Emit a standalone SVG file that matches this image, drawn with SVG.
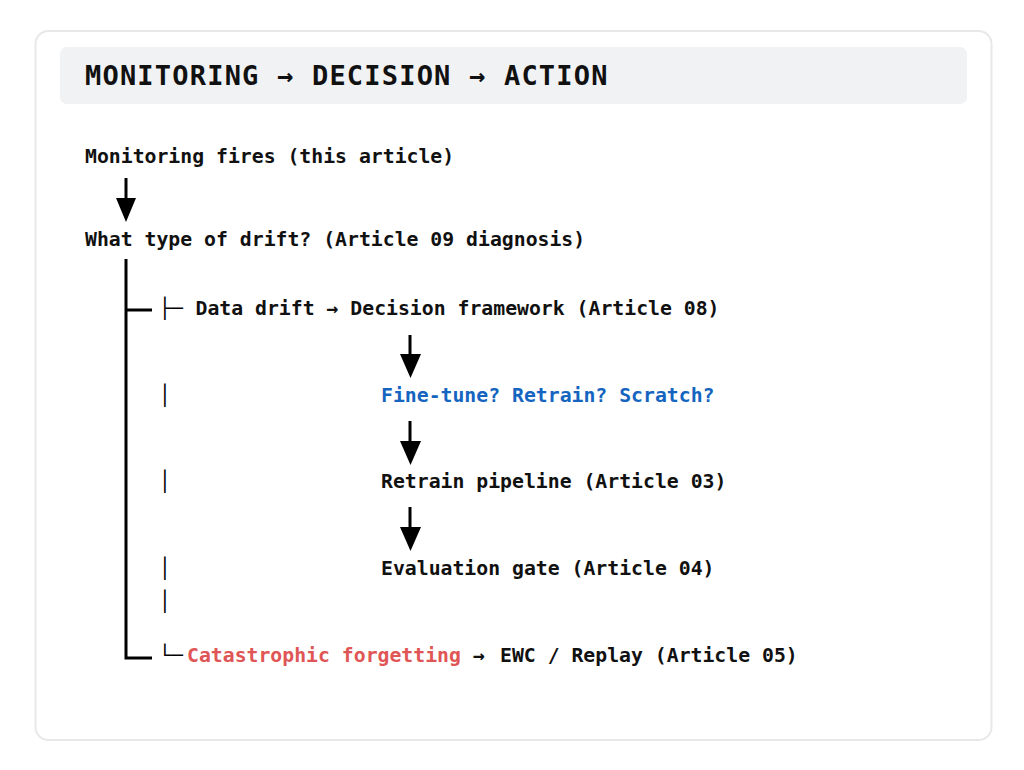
<svg xmlns="http://www.w3.org/2000/svg" width="1024" height="770" viewBox="0 0 1024 770">
<style>
.t{font-family:"DejaVu Sans Mono","Liberation Mono",monospace;font-weight:bold;font-size:19.8px;fill:#111}
.box{font-family:"DejaVu Sans Mono","Liberation Mono",monospace;font-weight:normal;font-size:19.8px;fill:#000}
.title{font-family:"DejaVu Sans Mono","Liberation Mono",monospace;font-weight:bold;font-size:27px;letter-spacing:1.2px;fill:#111}
.blue{fill:#1565c0}
.red{fill:#e05555}
.thick{stroke:#000;stroke-width:3;fill:none}
.ash{stroke:#000;stroke-width:3}
</style>
<rect x="0" y="0" width="1024" height="770" fill="#fff"/>
<rect x="35.5" y="31" width="956" height="709" rx="13" fill="#fff" stroke="#e8e8e8" stroke-width="2"/>
<g id="header">
<rect x="60" y="47" width="907" height="57" rx="7" fill="#f1f2f4"/>
<text class="title" x="85" y="85">MONITORING → DECISION → ACTION</text>
</g>
<g id="connectors">
<line class="ash" x1="126" y1="178" x2="126" y2="200"/>
<path d="M116,198 L136,198 L126,222 z" fill="#000"/>
<line class="ash" x1="410" y1="335" x2="410" y2="356"/>
<path d="M400,354 L421,354 L410.5,378 z" fill="#000"/>
<line class="ash" x1="410" y1="421" x2="410" y2="443"/>
<path d="M400,441 L421,441 L410.5,465 z" fill="#000"/>
<line class="ash" x1="410" y1="507" x2="410" y2="529"/>
<path d="M400,527 L421,527 L410.5,551 z" fill="#000"/>
<path class="thick" d="M126,259 L126,658 L152,658"/>
<line class="ash" x1="126" y1="310" x2="152" y2="310"/>
</g>
<g id="node-monitoring"><text class="t" x="85" y="163">Monitoring fires (this article)</text></g>
<g id="node-drift-type"><text class="t" x="85" y="246">What type of drift? (Article 09 diagnosis)</text></g>
<g id="node-data-drift"><text class="box" x="159" y="315">├─</text><text class="t" x="195.5" y="315">Data drift → Decision framework (Article 08)</text></g>
<g id="node-finetune"><text class="box" x="159" y="402">│</text><text class="t blue" x="381" y="402">Fine-tune? Retrain? Scratch?</text></g>
<g id="node-retrain"><text class="box" x="159" y="488">│</text><text class="t" x="381" y="488">Retrain pipeline (Article 03)</text></g>
<g id="node-eval"><text class="box" x="159" y="575">│</text><text class="t" x="381" y="575">Evaluation gate (Article 04)</text></g>
<g id="spacer"><text class="box" x="159" y="608">│</text></g>
<g id="node-forgetting"><text class="box" x="159" y="662">└─</text><text class="t" x="187" y="662"><tspan class="red">Catastrophic forgetting</tspan><tspan x="473">→</tspan><tspan x="500">EWC / Replay (Article 05)</tspan></text></g>
</svg>
